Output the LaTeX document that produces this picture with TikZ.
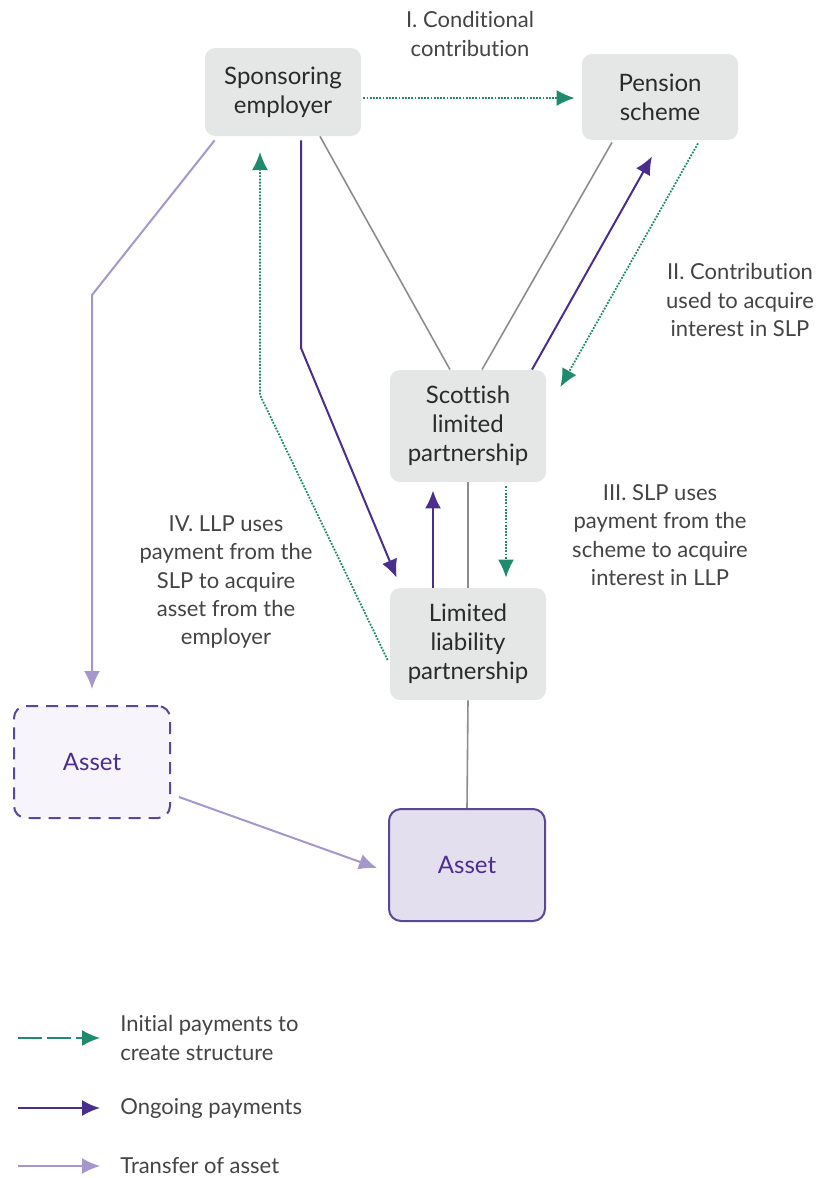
\documentclass[tikz,border=0pt]{standalone}
\usepackage{fontspec}
\setmainfont{Lato}[Ligatures={CommonOff,ContextualOff}]
\usetikzlibrary{arrows.meta,positioning,calc}

\definecolor{boxgray}{HTML}{E5E6E6}
\definecolor{tealc}{HTML}{1F8A6E}
\definecolor{darkpur}{HTML}{4A2D8C}
\definecolor{lightpur}{HTML}{A596CC}
\definecolor{graylin}{HTML}{8C8C8C}
\definecolor{assetfill}{HTML}{E4DFEF}
\definecolor{assetedge}{HTML}{5A4896}
\definecolor{dashfill}{HTML}{F7F5FB}
\definecolor{textc}{HTML}{2A2A2A}
\definecolor{lblc}{HTML}{444444}

\begin{document}
\begin{tikzpicture}[
  x=0.5pt, y=-0.5pt,
  box/.style={fill=boxgray, rounded corners=5pt, align=center, text=textc,
              font=\fontsize{12}{14.5}\selectfont, minimum width=78pt, inner sep=2pt},
  ast/.style={draw=assetedge, line width=1pt, fill=assetfill, rounded corners=6pt,
              text=darkpur, font=\fontsize{12}{14.5}\selectfont,
              minimum width=78pt, minimum height=56pt},
  dast/.style={ast, fill=dashfill, dash pattern=on 6pt off 4pt},
  lbl/.style={align=center, text=lblc, font=\fontsize{11}{14.2}\selectfont},
  leg/.style={align=left, anchor=west, inner sep=0pt, text=lblc,
              font=\fontsize{11}{14.2}\selectfont},
  tip/.style={-{Latex[length=9pt,width=8pt]}},
  init/.style={tip, draw=tealc, line width=0.9pt, dash pattern=on 0.9pt off 0.7pt},
  ongo/.style={tip, draw=darkpur, line width=1pt},
  xfer/.style={tip, draw=lightpur, line width=1pt},
  link/.style={draw=graylin, line width=0.8pt}
]
\useasboundingbox (0,0) rectangle (824,1178);

% entities
\node[box, minimum height=44pt] (emp) at (283,92) {Sponsoring\\employer};
\node[box, minimum height=43pt] (pen) at (660,97) {Pension\\scheme};
\node[box, minimum height=56pt] (slp) at (468,426) {Scottish\\limited\\partnership};
\node[box, minimum height=56pt] (llp) at (468,644) {Limited\\liability\\partnership};
\node[dast] (oldasset) at (92,762) {Asset};
\node[ast] (asset) at (467,865) {Asset};

% step labels
\node[lbl] (l1) at (470,34) {I. Conditional\\contribution};
\node[lbl] (l2) at (740,300) {II. Contribution\\used to acquire\\interest in SLP};
\node[lbl] (l3) at (660,535) {III. SLP uses\\payment from the\\scheme to acquire\\interest in LLP};
\node[lbl] (l4) at (226,582) {IV. LLP uses\\payment from the\\SLP to acquire\\asset from the\\employer};

% ownership links
\draw[link] ([xshift=18.5pt]emp.south) -- ([xshift=-9pt]slp.north);
\draw[link] ([xshift=-24pt,yshift=-1pt]pen.south) -- ([xshift=7pt]slp.north);
\draw[link] (slp.south) -- (llp.north);
\draw[link] (llp.south) -- (asset.north);

% payments
\draw[init] ([xshift=1pt,yshift=-3pt]emp.east) -- ([xshift=-3.5pt,yshift=-3pt]emp.east -| pen.west);
\draw[init] ([xshift=19pt,yshift=-1.5pt]pen.south) -- ([xshift=7pt,yshift=19.5pt]slp.east);
\draw[ongo] ([xshift=32pt]slp.north) -- ([xshift=-4pt,yshift=-8pt]pen.south);
\draw[init] ([xshift=19pt,yshift=-2pt]slp.south) -- ([xshift=19pt,yshift=5pt]llp.north);
\draw[ongo] ([xshift=-17.5pt]llp.north) -- ([xshift=-17.5pt,yshift=-4pt]slp.south);

\coordinate (b1) at (301,348);
\draw[ongo] ([xshift=9pt,yshift=-2pt]emp.south) -- (b1) -- ([xshift=3.5pt,yshift=5pt]llp.north west);
\coordinate (b2) at (260,395);
\draw[init] ([xshift=-1pt,yshift=-8pt]llp.west) -- (b2) -- (b2 |- 0,152);

% asset transfer
\coordinate (b3) at (92,295);
\draw[xfer] ([xshift=5pt,yshift=-2pt]emp.south west) -- (b3) -- ([yshift=8pt]oldasset.north);
\draw[xfer] ([xshift=4pt,yshift=-17.5pt]oldasset.east) -- ([xshift=-5.5pt,yshift=-1.5pt]asset.west);

% legend
\node[leg] (k1) at (120,1038) {Initial payments to\\create structure};
\node[leg] (k2) at (120,1108) {Ongoing payments};
\node[leg] (k3) at (120,1166) {Transfer of asset};
\coordinate (s1) at (18,1038);
\coordinate (s2) at (18,1108);
\coordinate (s3) at (18,1166);
\draw[init, dash pattern=on 12pt off 2.5pt] (s1) -- ([xshift=-10pt]k1.west);
\draw[ongo] (s2) -- ([xshift=-10pt]k2.west);
\draw[xfer] (s3) -- ([xshift=-10pt]k3.west);
\end{tikzpicture}
\end{document}
